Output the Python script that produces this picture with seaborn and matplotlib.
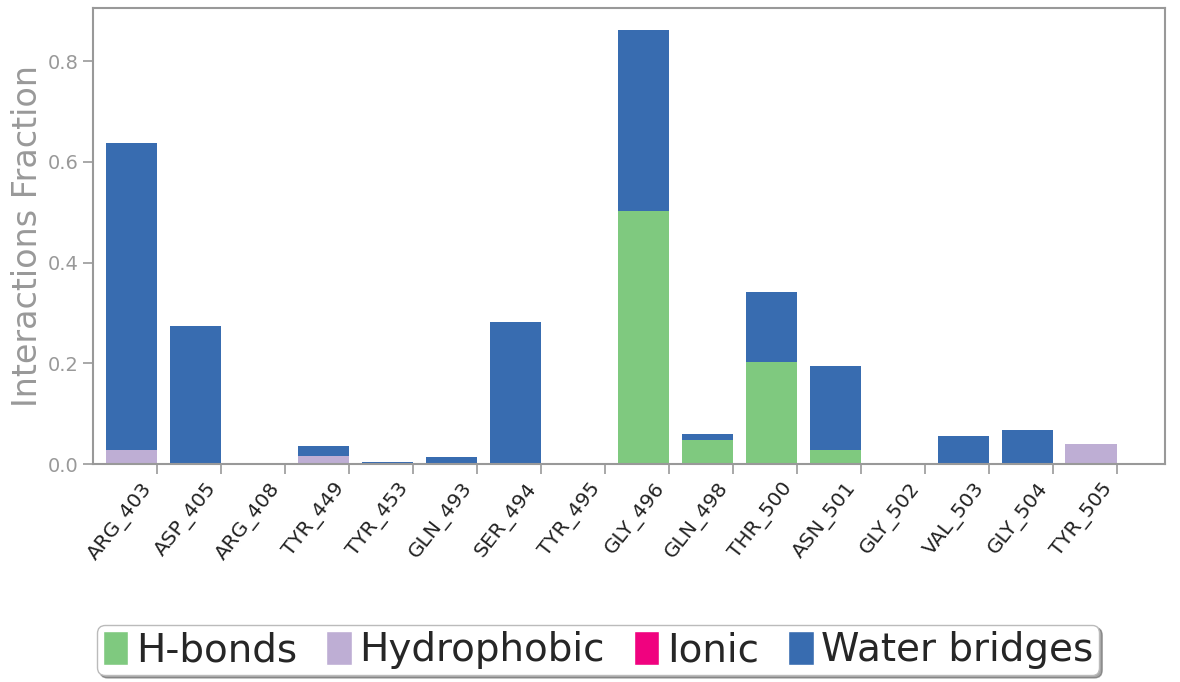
import numpy as np
import pandas as pd
import matplotlib
matplotlib.use('Agg')
import matplotlib.pyplot as plt
import seaborn as sns
from matplotlib.patches import Patch

# Residuos e fracoes de interacao
residuos = ['ARG_403', 'ASP_405', 'ARG_408', 'TYR_449', 'TYR_453', 'GLN_493',
            'SER_494', 'TYR_495', 'GLY_496', 'GLN_498', 'THR_500', 'ASN_501',
            'GLY_502', 'VAL_503', 'GLY_504', 'TYR_505']
h_bonds = [0.0, 0.0, 0.0, 0.0, 0.0, 0.0, 0.0, 0.0, 0.502, 0.048, 0.202, 0.028,
           0.0, 0.0, 0.0, 0.0]
hidrofobico = [0.028, 0.0, 0.0, 0.015, 0.0, 0.0, 0.0, 0.0, 0.0, 0.0, 0.0, 0.0,
               0.0, 0.0, 0.0, 0.040]
ionico = [0.0] * 16
pontes_agua = [0.609, 0.274, 0.0, 0.020, 0.004, 0.014, 0.282, 0.0, 0.360, 0.012,
               0.139, 0.167, 0.0, 0.056, 0.067, 0.0]

tipos = ['H-bonds', 'Hydrophobic', 'Ionic', 'Water bridges']
cores = ['#7fc97f', '#beaed4', '#f0027f', '#386cb0']

df = pd.DataFrame({'residuo': residuos, 'H-bonds': h_bonds,
                   'Hydrophobic': hidrofobico, 'Ionic': ionico,
                   'Water bridges': pontes_agua})
# somas acumuladas para empilhar
acum = df[tipos].cumsum(axis=1)
acum['residuo'] = df['residuo']

sns.set_style('ticks')
plt.rcParams['font.family'] = ['DejaVu Sans']

fig = plt.figure(figsize=(11.8, 6.82), dpi=100)
ax = fig.add_axes([0.0788, 0.3196, 0.9082, 0.6684])

# desenha do topo para baixo, cada camada cobre a anterior
for tipo, cor in reversed(list(zip(tipos, cores))):
    sns.barplot(data=acum, x='residuo', y=tipo, color=cor, saturation=1,
                width=0.8, linewidth=0, ax=ax, order=residuos)

n = len(residuos)
ax.set_xticks(np.arange(n) + 0.4)
ax.set_xticklabels(residuos, rotation=52, ha='right', fontsize=14.5,
                   color='#222222')
ax.set_xlim(-0.6, n + 0.15)
ax.set_ylim(0, 0.905)
ax.set_yticks([0.0, 0.2, 0.4, 0.6, 0.8])
ax.set_xlabel('')
ax.set_ylabel('Interactions Fraction', fontsize=24, color='#999999')
ax.yaxis.set_label_coords(-0.046, 0.5)

cinza = '#999999'
for s in ax.spines.values():
    s.set_color(cinza)
    s.set_linewidth(1.5)
ax.tick_params(axis='both', colors=cinza, length=7, width=1.2)
ax.tick_params(axis='y', labelsize=14, labelcolor='#999999')
ax.tick_params(axis='x', labelcolor='#222222', pad=4)

handles = [Patch(facecolor=c, label=t) for t, c in zip(tipos, cores)]
leg = fig.legend(handles=handles, loc='center', bbox_to_anchor=(0.507, 0.047),
                 ncol=4, fontsize=28, frameon=True, fancybox=True, shadow=True,
                 handlelength=0.65, handleheight=1.0, handletextpad=0.2,
                 columnspacing=0.75, borderpad=0.15, borderaxespad=0)
leg.get_frame().set_edgecolor('#bbbbbb')

fig.savefig('out.png', dpi=100)
